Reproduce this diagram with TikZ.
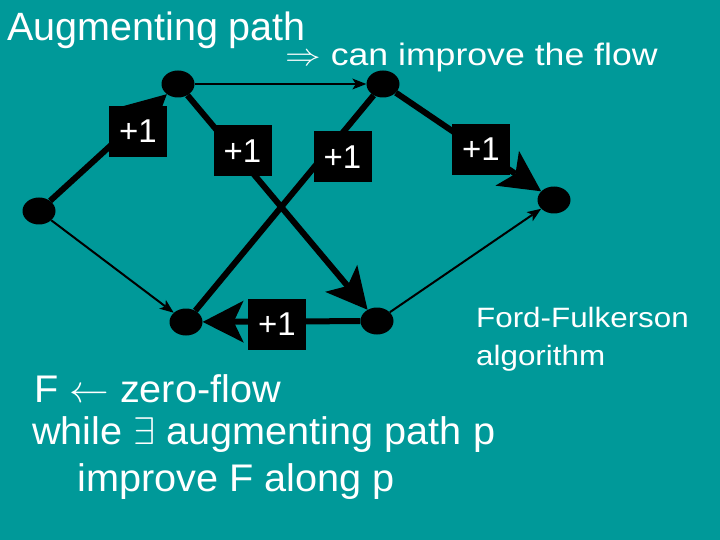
\RequirePackage{fix-cm}
\documentclass[tikz,border=0pt]{standalone}
\usepackage{fontspec}
\setmainfont{Liberation Sans}
\usepackage{graphicx}
\usetikzlibrary{shapes.geometric,arrows.meta}
\definecolor{bg}{RGB}{0,153,153}
\begin{document}
\begin{tikzpicture}[x=1pt,y=-1pt,
  vtx/.style={ellipse,fill=black,minimum width=33pt,minimum height=27pt,inner sep=0pt},
  lab/.style={fill=black,text=white,minimum width=58pt,minimum height=51pt,inner sep=0pt,font=\fontsize{33}{36}\selectfont},
  fatline/.style={line width=6pt},
  fatarrow/.style={line width=6pt,-{Stealth[length=41pt,width=42pt,inset=10pt,line width=0pt]}},
  thinarrow/.style={line width=2pt,-{Stealth[length=14pt,width=11pt,inset=3.5pt,line width=0pt]}},
  txt/.style={anchor=base west,inner sep=0pt,text=white}]
\useasboundingbox (0,0) rectangle (720,540);
\fill[bg] (0,0) rectangle (720,540);
% vertices
\node[vtx] (A) at (39,211) {};
\node[vtx] (B) at (178,84) {};
\node[vtx] (C) at (383,84) {};
\node[vtx] (D) at (554,200) {};
\node[vtx] (E) at (186,322) {};
\node[vtx] (F) at (377,321) {};
% edges
\draw[thinarrow] (A) -- (E);
\draw[thinarrow] (B) -- (C);
\draw[thinarrow] (F) -- (D);
\draw[fatarrow] (A) -- (B);
\draw[fatarrow] (B) -- (F);
\draw[fatline] (C) -- (E);
\draw[fatarrow] (C) -- (D);
\draw[fatarrow] (F) -- (E);
% labels
\node[lab] (L1) at (138,131.5) {+1};
\node[lab] (L2) at (242.5,151) {+1};
\node[lab] (L3) at (342.5,157) {+1};
\node[lab] (L4) at (481,149.5) {+1};
\node[lab] (L5) at (277,324.5) {+1};
% texts
\node[txt,font=\fontsize{39.5}{44}\selectfont] (t1) at (7,41) {Augmenting path};
\node[txt,font=\fontsize{31}{34}\selectfont] (t2) at (285,66) {\scalebox{1.15}[1]{$\Rightarrow$ can improve the flow}};
\node[txt,font=\fontsize{28}{30}\selectfont] (t3) at (476,327) {\scalebox{1.12}[1]{Ford-Fulkerson}};
\node[txt,font=\fontsize{28}{30}\selectfont] (t4) at (476,365) {\scalebox{1.12}[1]{algorithm}};
\node[txt,font=\fontsize{38.5}{42}\selectfont] (t5) at (34,402) {\scalebox{1.03}[1]{F $\leftarrow$ zero-flow}};
\node[txt,font=\fontsize{38.5}{42}\selectfont] (t6) at (32,444) {\scalebox{1.03}[1]{while $\exists$ augmenting path p}};
\node[txt,font=\fontsize{38.5}{42}\selectfont] (t7) at (77,491) {\scalebox{1.03}[1]{improve F along p}};
\end{tikzpicture}
\end{document}
